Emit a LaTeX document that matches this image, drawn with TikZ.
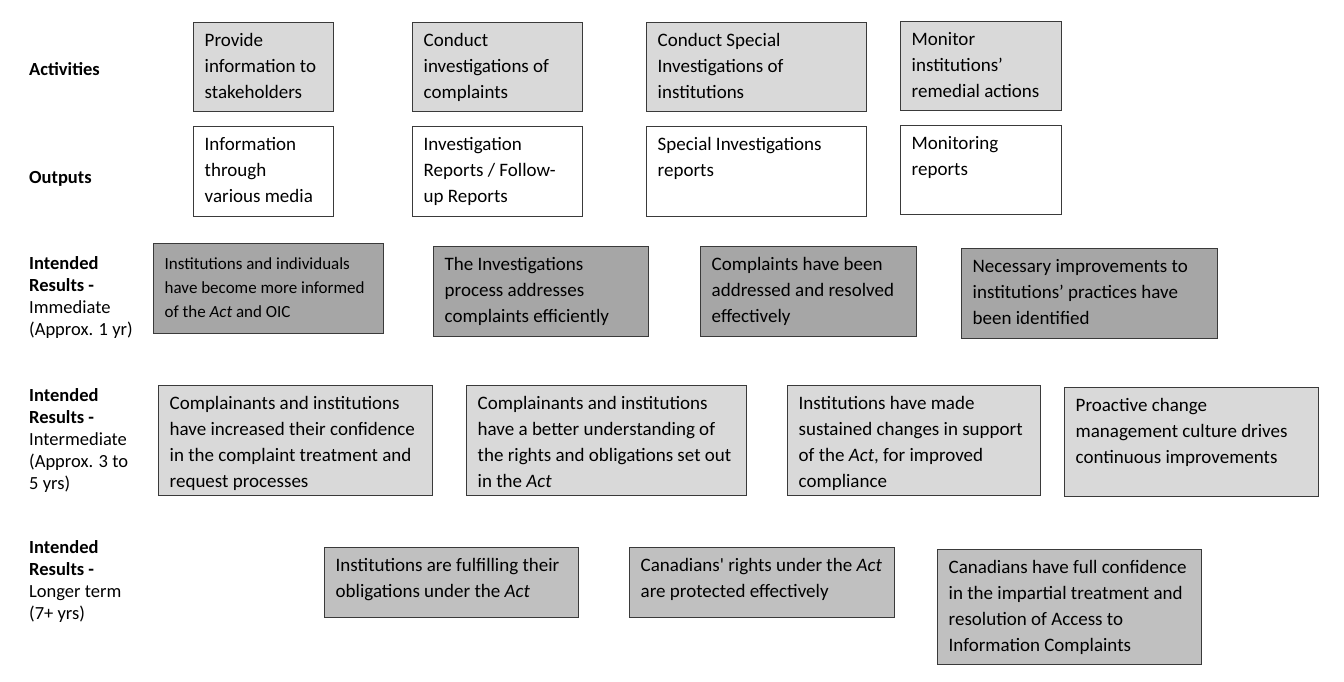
\documentclass[tikz,border=0pt]{standalone}
\usepackage{fontspec}
\setmainfont{Carlito}
\newfontfamily\nolig{Carlito}
\definecolor{lightg}{HTML}{D9D9D9}
\definecolor{darkg}{HTML}{A6A6A6}
\definecolor{midg}{HTML}{C0C0C0}
\definecolor{bordc}{HTML}{3A3A3A}
\tikzset{
  box/.style={draw=bordc, line width=1.3pt, inner sep=0pt, anchor=north west},
  actbox/.style={box, fill=lightg},
  outbox/.style={box, fill=white},
  immbox/.style={box, fill=darkg},
  intbox/.style={box, fill=lightg},
  lngbox/.style={box, fill=midg},
  txt/.style={inner sep=0pt, anchor=north west, align=left, font=\fontsize{19}{26}\selectfont},
  smalltxt/.style={txt, yshift=-3pt, font=\fontsize{17}{24}\selectfont},
  lab/.style={inner sep=0pt, anchor=north west, align=left, font=\fontsize{18.5}{22}\selectfont}
}
\newcommand\mybox[8]{%
  \node[#2, minimum width={(#5-#3)*1pt}, minimum height={(#6-#4)*1pt}] (#1) at (#3,#4) {};
  \node[#7] (#1t) at ([shift={(11.5pt,-11.5pt)}]#1.north west) {#8};}
\begin{document}
\begin{tikzpicture}[x=1pt,y=-1pt]
\useasboundingbox (0,0) rectangle (1344,682);
% row labels
\node[lab] (labact) at (29,62.5) {\textbf{Activities}};
\node[lab] (labout) at (29,171.5) {\textbf{Outputs}};
\node[lab] (labimm) at (29,256.5) {\textbf{Intended}\\\textbf{Results -}\\Immediate\\(Approx. 1 yr)};
\node[lab] (labint) at (29,388.5) {\textbf{Intended}\\\textbf{Results -}\\Intermediate\\(Approx. 3 to\\5 yrs)};
\node[lab] (lablng) at (29,540.5) {\textbf{Intended}\\\textbf{Results -}\\Longer term\\(7+ yrs)};
% activities
\mybox{a1}{actbox}{193}{22}{333}{111}{txt}{Provide\\information to\\stakeholders}
\mybox{a2}{actbox}{412}{22}{582}{111}{txt}{Conduct\\investigations of\\complaints}
\mybox{a3}{actbox}{646}{22}{866}{111}{txt}{Conduct Special\\Investigations of\\institutions}
\mybox{a4}{actbox}{900}{21}{1061}{110}{txt}{Monitor\\institutions’\\remedial actions}
% outputs
\mybox{o1}{outbox}{193}{126}{333}{216}{txt}{Information\\through\\various media}
\mybox{o2}{outbox}{412}{126}{582}{216}{txt}{Investigation\\Reports / Follow-\\up Reports}
\mybox{o3}{outbox}{646}{126}{866}{216}{txt}{Special Investigations\\reports}
\mybox{o4}{outbox}{900}{125}{1061}{214}{txt}{Monitoring\\reports}
% immediate
\mybox{i1}{immbox}{153}{243}{383}{333}{smalltxt}{Institutions and individuals\\have become more informed\\of the \textit{Act} and OIC}
\mybox{i2}{immbox}{433}{246}{648}{336}{txt}{The Investigations\\process addresses\\complaints efficiently}
\mybox{i3}{immbox}{700}{246}{916}{336}{txt}{Complaints have been\\addressed and resolved\\effectively}
\mybox{i4}{immbox}{961}{248}{1217}{338}{txt}{Necessary improvements to\\institutions’ practices have\\been identified}
% intermediate
\mybox{m1}{intbox}{158}{385}{432}{495}{txt}{Complainants and institutions\\have increased their confidence\\in the complaint treatment and\\request processes}
\mybox{m2}{intbox}{466}{385}{746}{495}{txt}{Complainants and institutions\\have a better understanding of\\the rights and obligations set out\\in the \textit{Act}}
\mybox{m3}{intbox}{787}{385}{1040}{495}{txt}{Institutions have made\\sustained changes in support\\of the \textit{Act}, for improved\\compliance}
\mybox{m4}{intbox}{1064}{387}{1318}{496}{txt}{Proactive change\\management culture drives\\continuous improvements}
% longer term
\mybox{l1}{lngbox}{324}{547}{578}{617}{txt}{Institutions are fulfilling their\\obligations under the \textit{Act}}
\mybox{l2}{lngbox}{629}{547}{894}{617}{txt}{Canadians{\nolig'} rights under the \textit{Act}\\are protected effectively}
\mybox{l3}{lngbox}{937}{549}{1201}{664}{txt}{Canadians have full confidence\\in the impartial treatment and\\resolution of Access to\\Information Complaints}
\end{tikzpicture}
\end{document}
